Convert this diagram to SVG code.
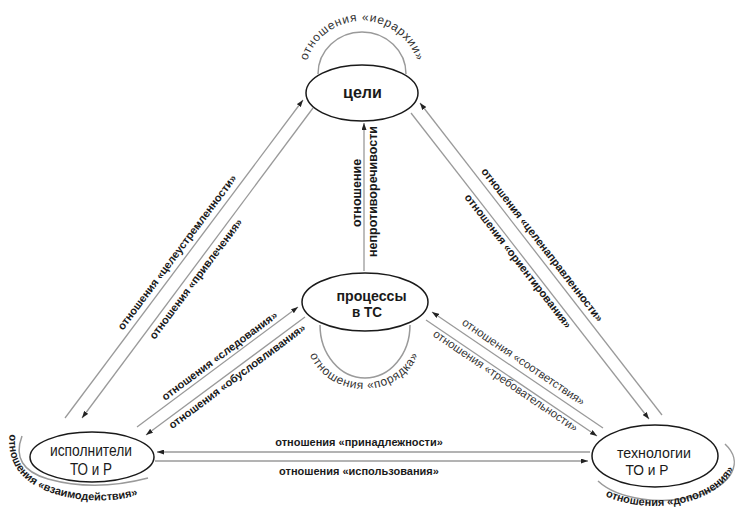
<svg xmlns="http://www.w3.org/2000/svg" width="739" height="514" viewBox="0 0 739 514">
<style>
.node ellipse{fill:#fff;stroke:#1a1a1a;stroke-width:1.5}
.nt{font-family:"Liberation Sans",Arial,sans-serif;fill:#1a1a1a;text-anchor:middle}
.b{font-weight:bold}
.conn line{stroke:#9a9a9a;stroke-width:1.3;fill:none}
.loop{stroke:#9a9a9a;stroke-width:1.5;fill:none}
.lb{font-family:"Liberation Sans",Arial,sans-serif;font-size:11px;font-weight:bold;fill:#1a1a1a;text-anchor:middle}
.lr{font-family:"Liberation Sans",Arial,sans-serif;font-size:11.5px;fill:#333;text-anchor:middle}
</style>
<defs>
<marker id="ah" viewBox="0 0 7 5" refX="7" refY="2.5" markerWidth="7" markerHeight="5" markerUnits="userSpaceOnUse" orient="auto"><path d="M0,0 L7,2.5 L0,5 z" fill="#222"/></marker>
<path id="pTop" d="M 305,76 A 57 55 0 1 1 419,76"/>
<path id="pMid" d="M 306,336 A 58 53 0 0 0 422,336"/>
<path id="pLeft" d="M 10,430 Q 3,478 55,494 Q 100,507 142,494"/>
<path id="pRight" d="M 598,492 A 82 51 0 0 0 736,461"/>
</defs>
<rect width="739" height="514" fill="#fff"/>

<g id="connectors" class="conn">
<line x1="65" y1="418" x2="303" y2="100" marker-end="url(#ah)"/>
<line x1="313" y1="108" x2="82" y2="418" marker-end="url(#ah)"/>
<line x1="662" y1="415" x2="420" y2="103" marker-end="url(#ah)"/>
<line x1="411" y1="113" x2="649" y2="419" marker-end="url(#ah)"/>
<line x1="364" y1="271" x2="364" y2="123" marker-end="url(#ah)"/>
<line x1="137" y1="427" x2="298" y2="307" marker-end="url(#ah)"/>
<line x1="305" y1="317" x2="146" y2="435" marker-end="url(#ah)"/>
<line x1="603" y1="428" x2="432" y2="312" marker-end="url(#ah)"/>
<line x1="426" y1="320" x2="597" y2="436" marker-end="url(#ah)"/>
<line x1="590" y1="452" x2="157" y2="452" marker-end="url(#ah)"/>
<line x1="155" y1="461" x2="588" y2="461" marker-end="url(#ah)"/>
</g>

<g id="loops">
<path class="loop" d="M 318,74 A 44 42 0 1 1 406,74"/>
<path class="loop" d="M 320,325 A 45 53 0 1 0 410,325"/>
<path class="loop" d="M 22,436 Q 10,468 48,479 Q 95,492 148,478"/>
<path class="loop" d="M 598,481 A 71 37 0 0 0 725,444"/>
</g>

<g id="labels">
<text class="lr" style="font-size:12px"><textPath href="#pTop" startOffset="50%" textLength="145" lengthAdjust="spacing">отношения «иерархии»</textPath></text>
<text class="lr" style="font-size:12px"><textPath href="#pMid" startOffset="50%" textLength="135" lengthAdjust="spacing">отношения «порядка»</textPath></text>
<text class="lb"><textPath href="#pLeft" startOffset="50%">отношения «взаимодействия»</textPath></text>
<text class="lb"><textPath href="#pRight" startOffset="50%">отношения «дополнения»</textPath></text>

<text class="lb" transform="translate(180,254.4) rotate(-53.2)">отношения «целеустремленности»</text>
<text class="lb" transform="translate(198.8,281) rotate(-53.2)">отношения «привлечения»</text>
<text class="lb" transform="translate(539.3,247) rotate(52.2)">отношения «целенаправленности»</text>
<text class="lb" transform="translate(515.2,263.3) rotate(52.2)">отношения «ориентирования»</text>
<text class="lb" transform="translate(221.8,358.8) rotate(-36.7)">отношения «следования»</text>
<text class="lb" transform="translate(239.3,379.3) rotate(-36.7)">отношения «обусловливания»</text>
<text class="lr" transform="translate(521.4,365.1) rotate(34.1)">отношения «соответствия»</text>
<text class="lr" transform="translate(503.4,383.9) rotate(34.1)">отношения «требовательности»</text>
<text class="lb" x="359" y="446">отношения «принадлежности»</text>
<text class="lb" x="359" y="474.5">отношения «использования»</text>
<text class="lb" style="font-size:12.5px" transform="translate(360.6,193) rotate(-90)">отношение</text>
<text class="lb" style="font-size:12.5px" transform="translate(376.5,191.5) rotate(-90)">непротиворечивости</text>
</g>

<g id="node-goals" class="node">
<ellipse cx="362" cy="93" rx="56" ry="28"/>
<text class="nt b" x="362.5" y="97.5" font-size="17" textLength="39" lengthAdjust="spacingAndGlyphs">цели</text>
</g>
<g id="node-processes" class="node">
<ellipse cx="365" cy="302" rx="63" ry="29"/>
<text class="nt b" x="371.5" y="300.5" font-size="14.5" textLength="70" lengthAdjust="spacingAndGlyphs">процессы</text>
<text class="nt b" x="367" y="317" font-size="14.5" textLength="30" lengthAdjust="spacingAndGlyphs">в ТС</text>
</g>
<g id="node-executors" class="node">
<ellipse cx="92" cy="457" rx="62" ry="25"/>
<text class="nt" x="91" y="455.5" font-size="16" textLength="82" lengthAdjust="spacingAndGlyphs">исполнители</text>
<text class="nt" x="91" y="475" font-size="16" textLength="42" lengthAdjust="spacingAndGlyphs">ТО и Р</text>
</g>
<g id="node-technologies" class="node">
<ellipse cx="655" cy="456" rx="63" ry="31"/>
<text class="nt" x="654" y="457.5" font-size="15.5" textLength="74" lengthAdjust="spacingAndGlyphs">технологии</text>
<text class="nt" x="647" y="475" font-size="15.5" textLength="43" lengthAdjust="spacingAndGlyphs">ТО и Р</text>
</g>
</svg>
